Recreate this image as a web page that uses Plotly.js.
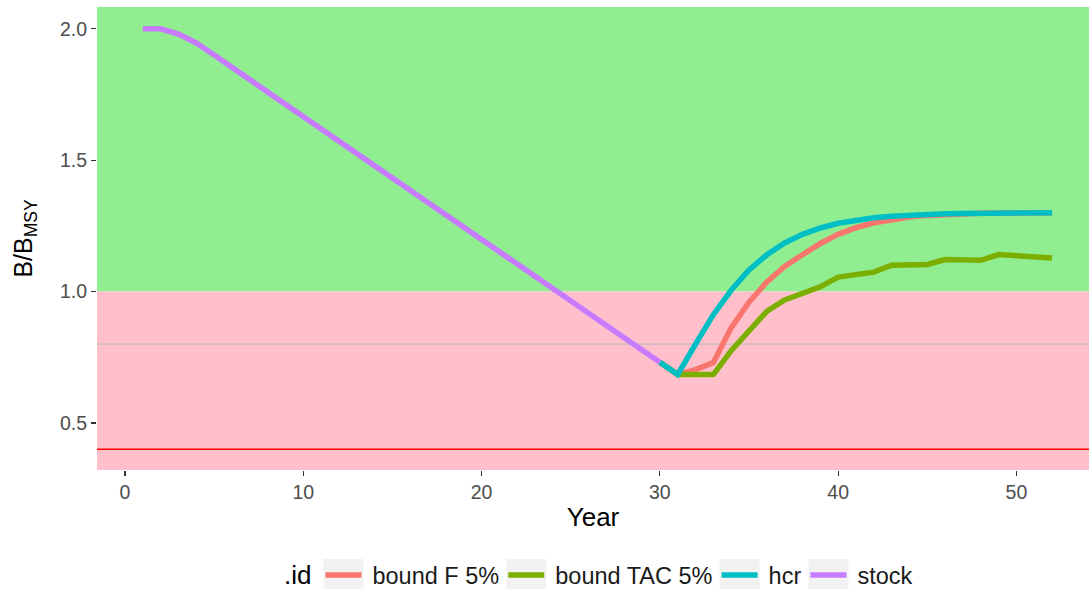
<!DOCTYPE html>
<html>
<head>
<meta charset="utf-8">
<script src="https://cdn.plot.ly/plotly-3.0.1.min.js"></script>
<style>
  html, body { margin: 0; padding: 0; background: #ffffff; }
  #chart { width: 1089px; height: 589px; }
</style>
</head>
<body>
<div id="chart"></div>
<script>
// Historical stock trajectory (years 1-30)
const stockYears = [1,2,3,4,5,6,7,8,9,10,11,12,13,14,15,16,17,18,19,20,21,22,23,24,25,26,27,28,29,30];
const stockValues = [2.000,2.000,1.980,1.946,1.900,1.853,1.806,1.759,1.713,1.666,1.619,1.572,1.526,1.479,1.432,1.385,1.339,1.292,1.245,1.198,1.152,1.105,1.058,1.011,0.965,0.918,0.871,0.824,0.778,0.731];

// Projections under each management option (years 30-52)
const projYears = [30,31,32,33,34,35,36,37,38,39,40,41,42,43,44,45,46,47,48,49,50,51,52];
const boundF = [0.731,0.684,0.703,0.730,0.862,0.960,1.037,1.096,1.140,1.183,1.218,1.243,1.262,1.275,1.284,1.290,1.294,1.296,1.298,1.299,1.299,1.300,1.300];
const boundTAC = [0.731,0.684,0.684,0.684,0.775,0.853,0.925,0.968,0.993,1.018,1.055,1.065,1.074,1.100,1.101,1.103,1.122,1.121,1.119,1.141,1.137,1.133,1.128];
const hcr = [0.731,0.684,0.800,0.912,1.005,1.082,1.140,1.185,1.218,1.242,1.260,1.272,1.281,1.287,1.291,1.294,1.296,1.297,1.298,1.299,1.299,1.300,1.300];

const seriesNames = ["bound F 5%", "bound TAC 5%", "hcr", "stock"];
const seriesColors = ["#F8766D", "#7CAE00", "#00BFC4", "#C77CFF"];

// Reference levels
const targetLevel = 1.0;     // B/BMSY = 1 boundary between zones
const triggerLevel = 0.8;    // grey reference
const limitLevel = 0.4;      // red limit reference

const xRange = [-1.57, 54.07];
const yRange = [0.321, 2.083];
const xTicks = [0, 10, 20, 30, 40, 50];
const yTicks = [0.5, 1.0, 1.5, 2.0];

const FONT = "Liberation Sans, Arial, Helvetica, sans-serif";

function lineTrace(x, y, name, color) {
  return {
    x: x, y: y, name: name, type: "scatter", mode: "lines",
    line: { color: color, width: 5.5 },
    hoverinfo: "x+y+name"
  };
}

const traces = [
  lineTrace(projYears, boundF, seriesNames[0], seriesColors[0]),
  lineTrace(projYears, boundTAC, seriesNames[1], seriesColors[1]),
  lineTrace(projYears, hcr, seriesNames[2], seriesColors[2]),
  lineTrace(stockYears, stockValues, seriesNames[3], seriesColors[3])
];

const layout = {
  width: 1089, height: 589,
  margin: { l: 97, r: 0, t: 7, b: 118.5, autoexpand: false },
  paper_bgcolor: "#ffffff",
  plot_bgcolor: "#ffffff",
  font: { family: FONT, color: "#4D4D4D" },
  showlegend: true,
  xaxis: {
    range: xRange, tickvals: xTicks, ticktext: xTicks.map(String),
    showgrid: false, zeroline: false, showline: false, automargin: true,
    ticks: "outside", ticklen: 5, tickwidth: 1.1, tickcolor: "#333333",
    tickfont: { size: 19.5, color: "#4D4D4D", family: FONT },
    title: { text: "Year", font: { size: 26, color: "#000000", family: FONT }, standoff: 5 }
  },
  yaxis: {
    range: yRange, tickvals: yTicks, ticktext: yTicks.map(v => v.toFixed(1)),
    showgrid: false, zeroline: false, showline: false, automargin: true,
    ticks: "outside", ticklen: 5, tickwidth: 1.1, tickcolor: "#333333",
    tickfont: { size: 19.5, color: "#4D4D4D", family: FONT },
    title: { text: "B/B<sub>MSY</sub>", font: { size: 25, color: "#000000", family: FONT }, standoff: 20 }
  },
  shapes: [
    { type: "rect", layer: "below", xref: "paper", yref: "y", x0: 0, x1: 1,
      y0: targetLevel, y1: yRange[1], fillcolor: "#90EE90", line: { width: 0 } },
    { type: "rect", layer: "below", xref: "paper", yref: "y", x0: 0, x1: 1,
      y0: yRange[0], y1: targetLevel, fillcolor: "#FFC0CB", line: { width: 0 } },
    { type: "line", layer: "below", xref: "paper", yref: "y", x0: 0, x1: 1,
      y0: triggerLevel, y1: triggerLevel, line: { color: "#BEBEBE", width: 1.4 } },
    { type: "line", layer: "below", xref: "paper", yref: "y", x0: 0, x1: 1,
      y0: limitLevel, y1: limitLevel, line: { color: "#FF0000", width: 1.6 } }
  ],
  legend: {
    orientation: "h", x: 0.5, xanchor: "center", y: -0.228, yanchor: "middle",
    title: { text: ".id", font: { size: 26, color: "#000000", family: FONT }, side: "left" },
    font: { size: 23.5, color: "#1A1A1A", family: FONT },
    bgcolor: "rgba(0,0,0,0)", itemwidth: 30, tracegroupgap: 0
  }
};

// Legend arrangement: grey key panels, longer swatches, ggplot-like spacing
const KEY_W = 40, KEY_H = 32, TEXT_OFFSET = 49, ITEM_GAP = 7, TITLE_GAP = 12;
const LEGEND_LEFT = 284, LEGEND_MID = 575;

function shiftGroup(g, dx, dy) {
  const t = g.getAttribute("transform") || "";
  const m = t.match(/translate\(\s*([-\d.e]+)[ ,]+([-\d.e]+)\s*\)/);
  const tx = m ? parseFloat(m[1]) : 0, ty = m ? parseFloat(m[2]) : 0;
  g.setAttribute("transform", "translate(" + (tx + dx) + "," + (ty + dy) + ")");
}

function arrangeLegend() {
  const ns = "http://www.w3.org/2000/svg";
  // the rearranged legend is wider than the box Plotly clipped it to
  document.querySelectorAll("#chart .legend [clip-path]").forEach(e => e.removeAttribute("clip-path"));
  const title = document.querySelector("#chart .legend .legendtitletext");
  let cursor = LEGEND_LEFT;
  if (title) {
    const b = title.getBoundingClientRect();
    const tx = parseFloat(title.getAttribute("x") || "0");
    const ty = parseFloat(title.getAttribute("y") || "0");
    title.setAttribute("x", tx + (LEGEND_LEFT - b.left));
    title.setAttribute("y", ty + (LEGEND_MID - (b.top + b.height / 2)));
    cursor = LEGEND_LEFT + b.width + TITLE_GAP;
  }
  document.querySelectorAll("#chart .legend .traces").forEach(g => {
    const r = document.createElementNS(ns, "rect");
    r.setAttribute("x", "0");
    r.setAttribute("y", String(-KEY_H / 2));
    r.setAttribute("width", String(KEY_W));
    r.setAttribute("height", String(KEY_H));
    r.setAttribute("fill", "#F2F2F2");
    g.insertBefore(r, g.firstChild);
    g.querySelectorAll("path.js-line").forEach(p => p.setAttribute("d", "M2,0h36"));
    const txt = g.querySelector("text.legendtext");
    if (txt) txt.setAttribute("x", String(TEXT_OFFSET));
    const rb = r.getBoundingClientRect();
    shiftGroup(g, cursor - rb.left, LEGEND_MID - (rb.top + rb.height / 2));
    const tw = txt ? txt.getBoundingClientRect().width : 0;
    cursor += TEXT_OFFSET + tw + ITEM_GAP;
  });
}

Plotly.newPlot("chart", traces, layout, { displayModeBar: false, staticPlot: true })
  .then(arrangeLegend);
</script>
</body>
</html>
